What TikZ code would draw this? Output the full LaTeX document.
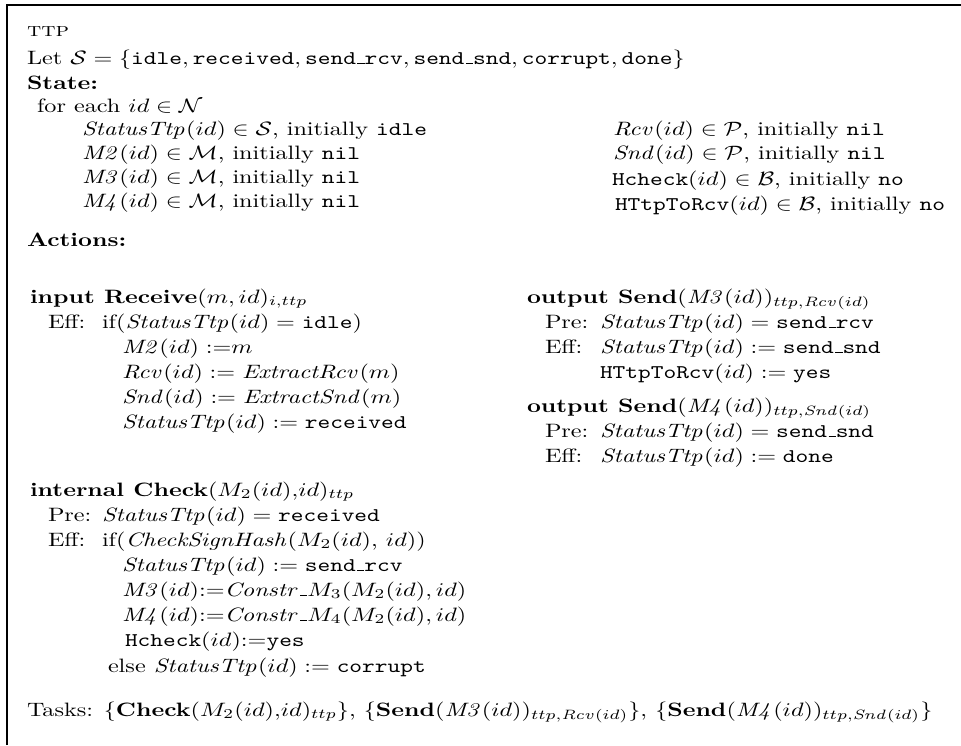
\documentclass[tikz,border=0pt]{standalone}
\usepackage{graphicx}
\newcommand{\us}{\leavevmode\kern.06em\vbox{\hrule width.3em}}
\newcommand{\sq}[1]{\scalebox{1}[0.8]{#1}}
\begin{document}
\begin{tikzpicture}[x=0.4132pt,y=-0.4132pt,
  txt/.style={anchor=base west,inner sep=0pt,outer sep=0pt},
  frameline/.style={line width=0.85pt}]
\useasboundingbox (0,0) rectangle (961,745);
\coordinate (fa) at (7,745);
\coordinate (fb) at (7,5);
\coordinate (fc) at (961,5);
\draw[frameline] (fa) -- (fb) -- (fc);
% header
\node[txt] (ttp) at (27,36) {\sq{\textsc{ttp}}};
\node[txt] (let) at (27,64) {\sq{Let $\mathcal{S}=\{\texttt{idle},\texttt{received},\texttt{send\us rcv},\texttt{send\us snd},\texttt{corrupt},\texttt{done}\}$}};
\node[txt] (state) at (27,89) {\sq{\textbf{State:}}};
\node[txt] (foreach) at (37,112) {\sq{for each $id\in\mathcal{N}$}};
\node[txt] (s1) at (82,135) {\sq{$\mathit{StatusTtp}(id)\in\mathcal{S}$, initially \texttt{idle}}};
\node[txt] (s2) at (82,159) {\sq{$\mathit{M2}(id)\in\mathcal{M}$, initially \texttt{nil}}};
\node[txt] (s3) at (82,183) {\sq{$\mathit{M3}(id)\in\mathcal{M}$, initially \texttt{nil}}};
\node[txt] (s4) at (82,207) {\sq{$\mathit{M4}(id)\in\mathcal{M}$, initially \texttt{nil}}};
\node[txt] (r1) at (613,135) {\sq{$\mathit{Rcv}(id)\in\mathcal{P}$, initially \texttt{nil}}};
\node[txt] (r2) at (613,159) {\sq{$\mathit{Snd}(id)\in\mathcal{P}$, initially \texttt{nil}}};
\node[txt] (r3) at (612,185) {\sq{\texttt{Hcheck}$(id)\in\mathcal{B}$, initially \texttt{no}}};
\node[txt] (r4) at (615,210) {\sq{\texttt{HTtpToRcv}$(id)\in\mathcal{B}$, initially \texttt{no}}};
\node[txt] (actions) at (27,246) {\sq{\textbf{Actions:}}};
% input Receive
\node[txt] (a1) at (30,303) {\sq{\textbf{input Receive}$(m,id)_{i,ttp}$}};
\node[txt] (a2) at (48,328) {\sq{Eff:}};
\node[txt] (a2b) at (102,328) {\sq{if($\mathit{StatusTtp}(id)=\texttt{idle}$)}};
\node[txt] (a3) at (122,353) {\sq{$\mathit{M2}(id)\;{:}{=}m$}};
\node[txt] (a4) at (122,378) {\sq{$\mathit{Rcv}(id):=\mathit{ExtractRcv}(m)$}};
\node[txt] (a5) at (122,403) {\sq{$\mathit{Snd}(id):=\mathit{ExtractSnd}(m)$}};
\node[txt] (a6) at (122,428) {\sq{$\mathit{StatusTtp}(id):=\texttt{received}$}};
% internal Check
\node[txt] (c1) at (30,496) {\sq{\textbf{internal Check}$(M_2(id){,}id)_{ttp}$}};
\node[txt] (c2) at (48,521) {\sq{Pre:}};
\node[txt] (c2b) at (102,521) {\sq{$\mathit{StatusTtp}(id)=\texttt{received}$}};
\node[txt] (c3) at (48,546) {\sq{Eff:}};
\node[txt] (c3b) at (102,546) {\sq{if($\mathit{CheckSignHash}(M_2(id)$, $id$))}};
\node[txt] (c4) at (122,571) {\sq{$\mathit{StatusTtp}(id):=\texttt{send\us rcv}$}};
\node[txt] (c5) at (122,596) {\sq{$\mathit{M3}(id){:}{=}\mathit{Constr}\us M_3(M_2(id),id)$}};
\node[txt] (c6) at (122,621) {\sq{$\mathit{M4}(id){:}{=}\mathit{Constr}\us M_4(M_2(id),id)$}};
\node[txt] (c7) at (125,646) {\sq{\texttt{Hcheck}$(id){:}{=}$\texttt{yes}}};
\node[txt] (c8) at (108,672) {\sq{else $\mathit{StatusTtp}(id):=\texttt{corrupt}$}};
% output Send M3
\node[txt] (o1) at (527,303) {\sq{\textbf{output Send}$(\mathit{M3}(id))_{ttp,\mathit{Rcv}(id)}$}};
\node[txt] (o2) at (545,328) {\sq{Pre:}};
\node[txt] (o2b) at (600,328) {\sq{$\mathit{StatusTtp}(id)=\texttt{send\us rcv}$}};
\node[txt] (o3) at (545,353) {\sq{Eff:}};
\node[txt] (o3b) at (600,353) {\sq{$\mathit{StatusTtp}(id):=\texttt{send\us snd}$}};
\node[txt] (o4) at (600,378) {\sq{\texttt{HTtpToRcv}$(id):=\texttt{yes}$}};
% output Send M4
\node[txt] (p1) at (527,412) {\sq{\textbf{output Send}$(\mathit{M4}(id))_{ttp,\mathit{Snd}(id)}$}};
\node[txt] (p2) at (545,437) {\sq{Pre:}};
\node[txt] (p2b) at (600,437) {\sq{$\mathit{StatusTtp}(id)=\texttt{send\us snd}$}};
\node[txt] (p3) at (545,462) {\sq{Eff:}};
\node[txt] (p3b) at (600,462) {\sq{$\mathit{StatusTtp}(id):=\texttt{done}$}};
% tasks
\node[txt] (tasks) at (27,716) {\sq{Tasks: $\{\mathbf{Check}(M_2(id){,}id)_{ttp}\}$, $\{\mathbf{Send}(\mathit{M3}(id))_{ttp,\mathit{Rcv}(id)}\}$, $\{\mathbf{Send}(\mathit{M4}(id))_{ttp,\mathit{Snd}(id)}\}$}};
\end{tikzpicture}
\end{document}
